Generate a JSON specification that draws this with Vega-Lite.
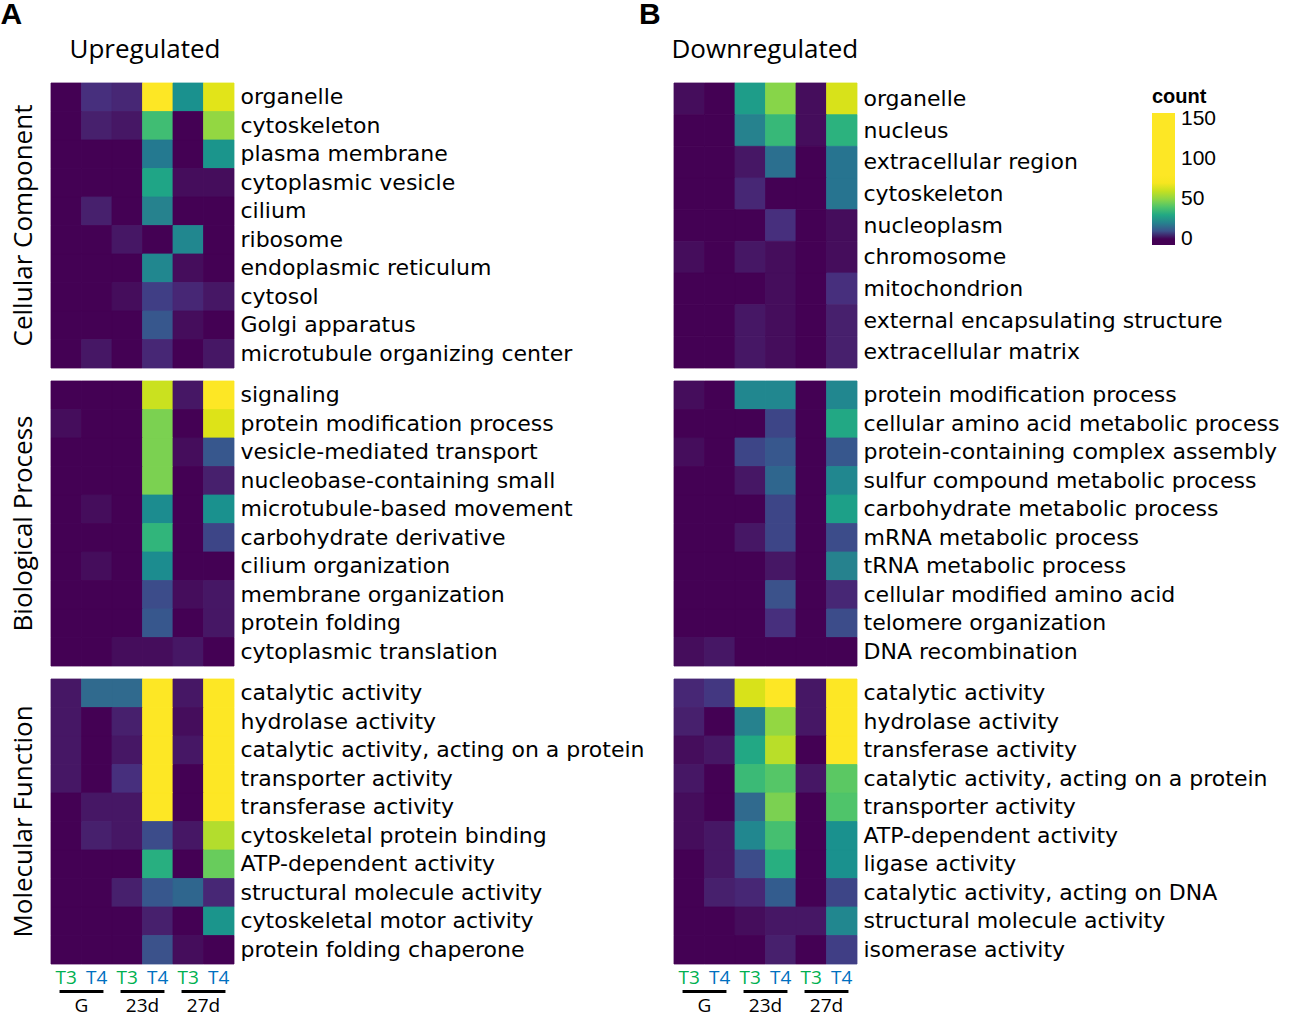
{
"$schema": "https://vega.github.io/schema/vega-lite/v6.json",
"background": "white",
"padding": {"left": 0, "top": 0, "right": 0, "bottom": 0},
"config": {"view": {"stroke": null}, "font": "Liberation Sans", "title": {"color": "black"}, "rect": {"strokeWidth": 0.8, "stroke": {"expr": "scale('color', datum.count)"}}},
"datasets": {
"aCC": [
{"term":"organelle","col":"G_T3","count":0},{"term":"organelle","col":"G_T4","count":5},{"term":"organelle","col":"23d_T3","count":4},{"term":"organelle","col":"23d_T4","count":150},{"term":"organelle","col":"27d_T3","count":23},{"term":"organelle","col":"27d_T4","count":66},
{"term":"cytoskeleton","col":"G_T3","count":0},{"term":"cytoskeleton","col":"G_T4","count":3},{"term":"cytoskeleton","col":"23d_T3","count":2},{"term":"cytoskeleton","col":"23d_T4","count":37},{"term":"cytoskeleton","col":"27d_T3","count":0},{"term":"cytoskeleton","col":"27d_T4","count":51},
{"term":"plasma membrane","col":"G_T3","count":0},{"term":"plasma membrane","col":"G_T4","count":0},{"term":"plasma membrane","col":"23d_T3","count":0},{"term":"plasma membrane","col":"23d_T4","count":18},{"term":"plasma membrane","col":"27d_T3","count":0},{"term":"plasma membrane","col":"27d_T4","count":24},
{"term":"cytoplasmic vesicle","col":"G_T3","count":0},{"term":"cytoplasmic vesicle","col":"G_T4","count":0},{"term":"cytoplasmic vesicle","col":"23d_T3","count":0},{"term":"cytoplasmic vesicle","col":"23d_T4","count":29},{"term":"cytoplasmic vesicle","col":"27d_T3","count":1},{"term":"cytoplasmic vesicle","col":"27d_T4","count":1},
{"term":"cilium","col":"G_T3","count":0},{"term":"cilium","col":"G_T4","count":3},{"term":"cilium","col":"23d_T3","count":0},{"term":"cilium","col":"23d_T4","count":20},{"term":"cilium","col":"27d_T3","count":0},{"term":"cilium","col":"27d_T4","count":0},
{"term":"ribosome","col":"G_T3","count":0},{"term":"ribosome","col":"G_T4","count":0},{"term":"ribosome","col":"23d_T3","count":2},{"term":"ribosome","col":"23d_T4","count":0},{"term":"ribosome","col":"27d_T3","count":21},{"term":"ribosome","col":"27d_T4","count":0},
{"term":"endoplasmic reticulum","col":"G_T3","count":0},{"term":"endoplasmic reticulum","col":"G_T4","count":0},{"term":"endoplasmic reticulum","col":"23d_T3","count":0},{"term":"endoplasmic reticulum","col":"23d_T4","count":21},{"term":"endoplasmic reticulum","col":"27d_T3","count":1},{"term":"endoplasmic reticulum","col":"27d_T4","count":0},
{"term":"cytosol","col":"G_T3","count":0},{"term":"cytosol","col":"G_T4","count":0},{"term":"cytosol","col":"23d_T3","count":1},{"term":"cytosol","col":"23d_T4","count":7},{"term":"cytosol","col":"27d_T3","count":4},{"term":"cytosol","col":"27d_T4","count":2},
{"term":"Golgi apparatus","col":"G_T3","count":0},{"term":"Golgi apparatus","col":"G_T4","count":0},{"term":"Golgi apparatus","col":"23d_T3","count":0},{"term":"Golgi apparatus","col":"23d_T4","count":11},{"term":"Golgi apparatus","col":"27d_T3","count":1},{"term":"Golgi apparatus","col":"27d_T4","count":0},
{"term":"microtubule organizing center","col":"G_T3","count":0},{"term":"microtubule organizing center","col":"G_T4","count":2},{"term":"microtubule organizing center","col":"23d_T3","count":0},{"term":"microtubule organizing center","col":"23d_T4","count":4},{"term":"microtubule organizing center","col":"27d_T3","count":0},{"term":"microtubule organizing center","col":"27d_T4","count":2}
],
"aBP": [
{"term":"signaling","col":"G_T3","count":0},{"term":"signaling","col":"G_T4","count":0},{"term":"signaling","col":"23d_T3","count":0},{"term":"signaling","col":"23d_T4","count":61},{"term":"signaling","col":"27d_T3","count":2},{"term":"signaling","col":"27d_T4","count":120},
{"term":"protein modification process","col":"G_T3","count":1},{"term":"protein modification process","col":"G_T4","count":0},{"term":"protein modification process","col":"23d_T3","count":0},{"term":"protein modification process","col":"23d_T4","count":47},{"term":"protein modification process","col":"27d_T3","count":0},{"term":"protein modification process","col":"27d_T4","count":65},
{"term":"vesicle-mediated transport","col":"G_T3","count":0},{"term":"vesicle-mediated transport","col":"G_T4","count":0},{"term":"vesicle-mediated transport","col":"23d_T3","count":0},{"term":"vesicle-mediated transport","col":"23d_T4","count":47},{"term":"vesicle-mediated transport","col":"27d_T3","count":1},{"term":"vesicle-mediated transport","col":"27d_T4","count":11},
{"term":"nucleobase-containing small","col":"G_T3","count":0},{"term":"nucleobase-containing small","col":"G_T4","count":0},{"term":"nucleobase-containing small","col":"23d_T3","count":0},{"term":"nucleobase-containing small","col":"23d_T4","count":47},{"term":"nucleobase-containing small","col":"27d_T3","count":0},{"term":"nucleobase-containing small","col":"27d_T4","count":3},
{"term":"microtubule-based movement","col":"G_T3","count":0},{"term":"microtubule-based movement","col":"G_T4","count":1},{"term":"microtubule-based movement","col":"23d_T3","count":0},{"term":"microtubule-based movement","col":"23d_T4","count":22},{"term":"microtubule-based movement","col":"27d_T3","count":0},{"term":"microtubule-based movement","col":"27d_T4","count":23},
{"term":"carbohydrate derivative","col":"G_T3","count":0},{"term":"carbohydrate derivative","col":"G_T4","count":0},{"term":"carbohydrate derivative","col":"23d_T3","count":0},{"term":"carbohydrate derivative","col":"23d_T4","count":34},{"term":"carbohydrate derivative","col":"27d_T3","count":0},{"term":"carbohydrate derivative","col":"27d_T4","count":8},
{"term":"cilium organization","col":"G_T3","count":0},{"term":"cilium organization","col":"G_T4","count":1},{"term":"cilium organization","col":"23d_T3","count":0},{"term":"cilium organization","col":"23d_T4","count":22},{"term":"cilium organization","col":"27d_T3","count":0},{"term":"cilium organization","col":"27d_T4","count":0},
{"term":"membrane organization","col":"G_T3","count":0},{"term":"membrane organization","col":"G_T4","count":0},{"term":"membrane organization","col":"23d_T3","count":0},{"term":"membrane organization","col":"23d_T4","count":9},{"term":"membrane organization","col":"27d_T3","count":1},{"term":"membrane organization","col":"27d_T4","count":2},
{"term":"protein folding","col":"G_T3","count":0},{"term":"protein folding","col":"G_T4","count":0},{"term":"protein folding","col":"23d_T3","count":0},{"term":"protein folding","col":"23d_T4","count":11},{"term":"protein folding","col":"27d_T3","count":0},{"term":"protein folding","col":"27d_T4","count":2},
{"term":"cytoplasmic translation","col":"G_T3","count":0},{"term":"cytoplasmic translation","col":"G_T4","count":0},{"term":"cytoplasmic translation","col":"23d_T3","count":1},{"term":"cytoplasmic translation","col":"23d_T4","count":1},{"term":"cytoplasmic translation","col":"27d_T3","count":2},{"term":"cytoplasmic translation","col":"27d_T4","count":0}
],
"aMF": [
{"term":"catalytic activity","col":"G_T3","count":2},{"term":"catalytic activity","col":"G_T4","count":15},{"term":"catalytic activity","col":"23d_T3","count":15},{"term":"catalytic activity","col":"23d_T4","count":150},{"term":"catalytic activity","col":"27d_T3","count":2},{"term":"catalytic activity","col":"27d_T4","count":150},
{"term":"hydrolase activity","col":"G_T3","count":2},{"term":"hydrolase activity","col":"G_T4","count":0},{"term":"hydrolase activity","col":"23d_T3","count":3},{"term":"hydrolase activity","col":"23d_T4","count":150},{"term":"hydrolase activity","col":"27d_T3","count":1},{"term":"hydrolase activity","col":"27d_T4","count":150},
{"term":"catalytic activity, acting on a protein","col":"G_T3","count":2},{"term":"catalytic activity, acting on a protein","col":"G_T4","count":0},{"term":"catalytic activity, acting on a protein","col":"23d_T3","count":2},{"term":"catalytic activity, acting on a protein","col":"23d_T4","count":120},{"term":"catalytic activity, acting on a protein","col":"27d_T3","count":2},{"term":"catalytic activity, acting on a protein","col":"27d_T4","count":150},
{"term":"transporter activity","col":"G_T3","count":2},{"term":"transporter activity","col":"G_T4","count":0},{"term":"transporter activity","col":"23d_T3","count":5},{"term":"transporter activity","col":"23d_T4","count":95},{"term":"transporter activity","col":"27d_T3","count":0},{"term":"transporter activity","col":"27d_T4","count":150},
{"term":"transferase activity","col":"G_T3","count":0},{"term":"transferase activity","col":"G_T4","count":2},{"term":"transferase activity","col":"23d_T3","count":2},{"term":"transferase activity","col":"23d_T4","count":150},{"term":"transferase activity","col":"27d_T3","count":0},{"term":"transferase activity","col":"27d_T4","count":150},
{"term":"cytoskeletal protein binding","col":"G_T3","count":0},{"term":"cytoskeletal protein binding","col":"G_T4","count":3},{"term":"cytoskeletal protein binding","col":"23d_T3","count":2},{"term":"cytoskeletal protein binding","col":"23d_T4","count":9},{"term":"cytoskeletal protein binding","col":"27d_T3","count":2},{"term":"cytoskeletal protein binding","col":"27d_T4","count":57},
{"term":"ATP-dependent activity","col":"G_T3","count":0},{"term":"ATP-dependent activity","col":"G_T4","count":0},{"term":"ATP-dependent activity","col":"23d_T3","count":0},{"term":"ATP-dependent activity","col":"23d_T4","count":32},{"term":"ATP-dependent activity","col":"27d_T3","count":0},{"term":"ATP-dependent activity","col":"27d_T4","count":44},
{"term":"structural molecule activity","col":"G_T3","count":0},{"term":"structural molecule activity","col":"G_T4","count":0},{"term":"structural molecule activity","col":"23d_T3","count":3},{"term":"structural molecule activity","col":"23d_T4","count":11},{"term":"structural molecule activity","col":"27d_T3","count":14},{"term":"structural molecule activity","col":"27d_T4","count":4},
{"term":"cytoskeletal motor activity","col":"G_T3","count":0},{"term":"cytoskeletal motor activity","col":"G_T4","count":0},{"term":"cytoskeletal motor activity","col":"23d_T3","count":0},{"term":"cytoskeletal motor activity","col":"23d_T4","count":3},{"term":"cytoskeletal motor activity","col":"27d_T3","count":0},{"term":"cytoskeletal motor activity","col":"27d_T4","count":24},
{"term":"protein folding chaperone","col":"G_T3","count":0},{"term":"protein folding chaperone","col":"G_T4","count":0},{"term":"protein folding chaperone","col":"23d_T3","count":0},{"term":"protein folding chaperone","col":"23d_T4","count":10},{"term":"protein folding chaperone","col":"27d_T3","count":1},{"term":"protein folding chaperone","col":"27d_T4","count":0}
],
"bCC": [
{"term":"organelle","col":"G_T3","count":1},{"term":"organelle","col":"G_T4","count":0},{"term":"organelle","col":"23d_T3","count":26},{"term":"organelle","col":"23d_T4","count":49},{"term":"organelle","col":"27d_T3","count":1},{"term":"organelle","col":"27d_T4","count":64},
{"term":"nucleus","col":"G_T3","count":0},{"term":"nucleus","col":"G_T4","count":0},{"term":"nucleus","col":"23d_T3","count":20},{"term":"nucleus","col":"23d_T4","count":35},{"term":"nucleus","col":"27d_T3","count":1},{"term":"nucleus","col":"27d_T4","count":33},
{"term":"extracellular region","col":"G_T3","count":0},{"term":"extracellular region","col":"G_T4","count":0},{"term":"extracellular region","col":"23d_T3","count":2},{"term":"extracellular region","col":"23d_T4","count":16},{"term":"extracellular region","col":"27d_T3","count":0},{"term":"extracellular region","col":"27d_T4","count":17},
{"term":"cytoskeleton","col":"G_T3","count":0},{"term":"cytoskeleton","col":"G_T4","count":0},{"term":"cytoskeleton","col":"23d_T3","count":4},{"term":"cytoskeleton","col":"23d_T4","count":0},{"term":"cytoskeleton","col":"27d_T3","count":0},{"term":"cytoskeleton","col":"27d_T4","count":17},
{"term":"nucleoplasm","col":"G_T3","count":0},{"term":"nucleoplasm","col":"G_T4","count":0},{"term":"nucleoplasm","col":"23d_T3","count":0},{"term":"nucleoplasm","col":"23d_T4","count":5},{"term":"nucleoplasm","col":"27d_T3","count":0},{"term":"nucleoplasm","col":"27d_T4","count":1},
{"term":"chromosome","col":"G_T3","count":1},{"term":"chromosome","col":"G_T4","count":0},{"term":"chromosome","col":"23d_T3","count":2},{"term":"chromosome","col":"23d_T4","count":1},{"term":"chromosome","col":"27d_T3","count":0},{"term":"chromosome","col":"27d_T4","count":1},
{"term":"mitochondrion","col":"G_T3","count":0},{"term":"mitochondrion","col":"G_T4","count":0},{"term":"mitochondrion","col":"23d_T3","count":0},{"term":"mitochondrion","col":"23d_T4","count":1},{"term":"mitochondrion","col":"27d_T3","count":0},{"term":"mitochondrion","col":"27d_T4","count":5},
{"term":"external encapsulating structure","col":"G_T3","count":0},{"term":"external encapsulating structure","col":"G_T4","count":0},{"term":"external encapsulating structure","col":"23d_T3","count":2},{"term":"external encapsulating structure","col":"23d_T4","count":1},{"term":"external encapsulating structure","col":"27d_T3","count":0},{"term":"external encapsulating structure","col":"27d_T4","count":3},
{"term":"extracellular matrix","col":"G_T3","count":0},{"term":"extracellular matrix","col":"G_T4","count":0},{"term":"extracellular matrix","col":"23d_T3","count":2},{"term":"extracellular matrix","col":"23d_T4","count":1},{"term":"extracellular matrix","col":"27d_T3","count":0},{"term":"extracellular matrix","col":"27d_T4","count":3}
],
"bBP": [
{"term":"protein modification process","col":"G_T3","count":1},{"term":"protein modification process","col":"G_T4","count":0},{"term":"protein modification process","col":"23d_T3","count":21},{"term":"protein modification process","col":"23d_T4","count":21},{"term":"protein modification process","col":"27d_T3","count":0},{"term":"protein modification process","col":"27d_T4","count":21},
{"term":"cellular amino acid metabolic process","col":"G_T3","count":0},{"term":"cellular amino acid metabolic process","col":"G_T4","count":0},{"term":"cellular amino acid metabolic process","col":"23d_T3","count":0},{"term":"cellular amino acid metabolic process","col":"23d_T4","count":8},{"term":"cellular amino acid metabolic process","col":"27d_T3","count":0},{"term":"cellular amino acid metabolic process","col":"27d_T4","count":30},
{"term":"protein-containing complex assembly","col":"G_T3","count":1},{"term":"protein-containing complex assembly","col":"G_T4","count":0},{"term":"protein-containing complex assembly","col":"23d_T3","count":8},{"term":"protein-containing complex assembly","col":"23d_T4","count":11},{"term":"protein-containing complex assembly","col":"27d_T3","count":0},{"term":"protein-containing complex assembly","col":"27d_T4","count":11},
{"term":"sulfur compound metabolic process","col":"G_T3","count":0},{"term":"sulfur compound metabolic process","col":"G_T4","count":0},{"term":"sulfur compound metabolic process","col":"23d_T3","count":2},{"term":"sulfur compound metabolic process","col":"23d_T4","count":14},{"term":"sulfur compound metabolic process","col":"27d_T3","count":0},{"term":"sulfur compound metabolic process","col":"27d_T4","count":21},
{"term":"carbohydrate metabolic process","col":"G_T3","count":0},{"term":"carbohydrate metabolic process","col":"G_T4","count":0},{"term":"carbohydrate metabolic process","col":"23d_T3","count":0},{"term":"carbohydrate metabolic process","col":"23d_T4","count":8},{"term":"carbohydrate metabolic process","col":"27d_T3","count":0},{"term":"carbohydrate metabolic process","col":"27d_T4","count":27},
{"term":"mRNA metabolic process","col":"G_T3","count":0},{"term":"mRNA metabolic process","col":"G_T4","count":0},{"term":"mRNA metabolic process","col":"23d_T3","count":2},{"term":"mRNA metabolic process","col":"23d_T4","count":8},{"term":"mRNA metabolic process","col":"27d_T3","count":0},{"term":"mRNA metabolic process","col":"27d_T4","count":9},
{"term":"tRNA metabolic process","col":"G_T3","count":0},{"term":"tRNA metabolic process","col":"G_T4","count":0},{"term":"tRNA metabolic process","col":"23d_T3","count":0},{"term":"tRNA metabolic process","col":"23d_T4","count":2},{"term":"tRNA metabolic process","col":"27d_T3","count":0},{"term":"tRNA metabolic process","col":"27d_T4","count":20},
{"term":"cellular modified amino acid","col":"G_T3","count":0},{"term":"cellular modified amino acid","col":"G_T4","count":0},{"term":"cellular modified amino acid","col":"23d_T3","count":0},{"term":"cellular modified amino acid","col":"23d_T4","count":10},{"term":"cellular modified amino acid","col":"27d_T3","count":0},{"term":"cellular modified amino acid","col":"27d_T4","count":4},
{"term":"telomere organization","col":"G_T3","count":0},{"term":"telomere organization","col":"G_T4","count":0},{"term":"telomere organization","col":"23d_T3","count":0},{"term":"telomere organization","col":"23d_T4","count":5},{"term":"telomere organization","col":"27d_T3","count":0},{"term":"telomere organization","col":"27d_T4","count":9},
{"term":"DNA recombination","col":"G_T3","count":1},{"term":"DNA recombination","col":"G_T4","count":2},{"term":"DNA recombination","col":"23d_T3","count":0},{"term":"DNA recombination","col":"23d_T4","count":0},{"term":"DNA recombination","col":"27d_T3","count":0},{"term":"DNA recombination","col":"27d_T4","count":0}
],
"bMF": [
{"term":"catalytic activity","col":"G_T3","count":4},{"term":"catalytic activity","col":"G_T4","count":6},{"term":"catalytic activity","col":"23d_T3","count":64},{"term":"catalytic activity","col":"23d_T4","count":150},{"term":"catalytic activity","col":"27d_T3","count":2},{"term":"catalytic activity","col":"27d_T4","count":150},
{"term":"hydrolase activity","col":"G_T3","count":3},{"term":"hydrolase activity","col":"G_T4","count":0},{"term":"hydrolase activity","col":"23d_T3","count":20},{"term":"hydrolase activity","col":"23d_T4","count":51},{"term":"hydrolase activity","col":"27d_T3","count":2},{"term":"hydrolase activity","col":"27d_T4","count":150},
{"term":"transferase activity","col":"G_T3","count":1},{"term":"transferase activity","col":"G_T4","count":2},{"term":"transferase activity","col":"23d_T3","count":30},{"term":"transferase activity","col":"23d_T4","count":58},{"term":"transferase activity","col":"27d_T3","count":0},{"term":"transferase activity","col":"27d_T4","count":150},
{"term":"catalytic activity, acting on a protein","col":"G_T3","count":2},{"term":"catalytic activity, acting on a protein","col":"G_T4","count":0},{"term":"catalytic activity, acting on a protein","col":"23d_T3","count":36},{"term":"catalytic activity, acting on a protein","col":"23d_T4","count":41},{"term":"catalytic activity, acting on a protein","col":"27d_T3","count":2},{"term":"catalytic activity, acting on a protein","col":"27d_T4","count":42},
{"term":"transporter activity","col":"G_T3","count":1},{"term":"transporter activity","col":"G_T4","count":0},{"term":"transporter activity","col":"23d_T3","count":15},{"term":"transporter activity","col":"23d_T4","count":47},{"term":"transporter activity","col":"27d_T3","count":0},{"term":"transporter activity","col":"27d_T4","count":40},
{"term":"ATP-dependent activity","col":"G_T3","count":1},{"term":"ATP-dependent activity","col":"G_T4","count":2},{"term":"ATP-dependent activity","col":"23d_T3","count":21},{"term":"ATP-dependent activity","col":"23d_T4","count":38},{"term":"ATP-dependent activity","col":"27d_T3","count":0},{"term":"ATP-dependent activity","col":"27d_T4","count":23},
{"term":"ligase activity","col":"G_T3","count":0},{"term":"ligase activity","col":"G_T4","count":2},{"term":"ligase activity","col":"23d_T3","count":9},{"term":"ligase activity","col":"23d_T4","count":32},{"term":"ligase activity","col":"27d_T3","count":0},{"term":"ligase activity","col":"27d_T4","count":23},
{"term":"catalytic activity, acting on DNA","col":"G_T3","count":0},{"term":"catalytic activity, acting on DNA","col":"G_T4","count":3},{"term":"catalytic activity, acting on DNA","col":"23d_T3","count":4},{"term":"catalytic activity, acting on DNA","col":"23d_T4","count":12},{"term":"catalytic activity, acting on DNA","col":"27d_T3","count":0},{"term":"catalytic activity, acting on DNA","col":"27d_T4","count":8},
{"term":"structural molecule activity","col":"G_T3","count":0},{"term":"structural molecule activity","col":"G_T4","count":0},{"term":"structural molecule activity","col":"23d_T3","count":1},{"term":"structural molecule activity","col":"23d_T4","count":2},{"term":"structural molecule activity","col":"27d_T3","count":2},{"term":"structural molecule activity","col":"27d_T4","count":21},
{"term":"isomerase activity","col":"G_T3","count":0},{"term":"isomerase activity","col":"G_T4","count":0},{"term":"isomerase activity","col":"23d_T3","count":0},{"term":"isomerase activity","col":"23d_T4","count":3},{"term":"isomerase activity","col":"27d_T3","count":0},{"term":"isomerase activity","col":"27d_T4","count":7}
],
"groups": [{"group":"G"},{"group":"23d"},{"group":"27d"}]
},
"hconcat": [
{
"title": {"text": "A", "anchor": "start", "frame": "bounds", "font": "Liberation Sans", "fontSize": 30, "fontWeight": "bold", "offset": 6, "dx": -10},
"spacing": 11,
"vconcat": [
{"data": {"name": "aCC"}, "width": 183, "height": 285,
 "title": {"text": "Cellular Component", "orient": "left", "font": "Open Sans", "fontSize": 26, "fontWeight": "normal", "offset": 14},
 "mark": {"type": "rect"},
 "encoding": {
  "x": {"field": "col", "type": "nominal", "sort": ["G_T3","G_T4","23d_T3","23d_T4","27d_T3","27d_T4"], "scale": {"paddingInner": 0, "paddingOuter": 0}, "axis": {"orient": "top", "labels": false, "ticks": false, "domain": false, "title": "Upregulated", "titleFont": "Open Sans", "titleFontSize": 26, "titleFontWeight": "normal", "titleColor": "black", "titleAnchor": "start", "titleAlign": "left", "titleX": 18, "titlePadding": 21}},
  "y": {"field": "term", "type": "nominal", "sort": null, "scale": {"paddingInner": 0, "paddingOuter": 0}, "axis": {"orient": "right", "ticks": false, "domain": false, "title": null, "labelFont": "DejaVu Sans", "labelFontSize": 22, "labelColor": "black", "labelPadding": 6, "labelLimit": 700}},
  "color": {"field": "count", "type": "quantitative", "scale": {"domain": [-7.5,0,5,10,15,20,25,30,35,40,45,50,55,60,65,70,75,80,85,90,95,100,105,110,115,120,125,130,135,140,145,150,157.5], "range": ["#440154","#440154","#472f7d","#3b528b","#306a8e","#26828e","#1f9a8a","#22a884","#37b878","#4fc46a","#6ece58","#8ed645","#a8db34","#c5e021","#dde318","#f6e620","#fde725","#fde725","#fde725","#fde725","#fde725","#fde725","#fde725","#fde725","#fde725","#fde725","#fde725","#fde725","#fde725","#fde725","#fde725","#fde725","#fde725"]}, "legend": {"orient": "none", "legendX": 1101, "legendY": 4, "values": [0,50,100,150], "gradientLength": 132, "gradientThickness": 23, "title": "count", "titleFont": "Liberation Sans", "titleFontSize": 20, "titleFontWeight": "bold", "titleColor": "black", "titlePadding": 6, "labelFont": "Liberation Sans", "labelFontSize": 21, "labelColor": "black", "labelOffset": 6}}
 }},
{"data": {"name": "aBP"}, "width": 183, "height": 285,
 "title": {"text": "Biological Process", "orient": "left", "font": "Open Sans", "fontSize": 26, "fontWeight": "normal", "offset": 14},
 "mark": {"type": "rect"},
 "encoding": {
  "x": {"field": "col", "type": "nominal", "sort": ["G_T3","G_T4","23d_T3","23d_T4","27d_T3","27d_T4"], "scale": {"paddingInner": 0, "paddingOuter": 0}, "axis": null},
  "y": {"field": "term", "type": "nominal", "sort": null, "scale": {"paddingInner": 0, "paddingOuter": 0}, "axis": {"orient": "right", "ticks": false, "domain": false, "title": null, "labelFont": "DejaVu Sans", "labelFontSize": 22, "labelColor": "black", "labelPadding": 6, "labelLimit": 700}},
  "color": {"field": "count", "type": "quantitative", "scale": {"domain": [-7.5,0,5,10,15,20,25,30,35,40,45,50,55,60,65,70,75,80,85,90,95,100,105,110,115,120,125,130,135,140,145,150,157.5], "range": ["#440154","#440154","#472f7d","#3b528b","#306a8e","#26828e","#1f9a8a","#22a884","#37b878","#4fc46a","#6ece58","#8ed645","#a8db34","#c5e021","#dde318","#f6e620","#fde725","#fde725","#fde725","#fde725","#fde725","#fde725","#fde725","#fde725","#fde725","#fde725","#fde725","#fde725","#fde725","#fde725","#fde725","#fde725","#fde725"]}, "legend": {"orient": "none", "legendX": 1101, "legendY": 4, "values": [0,50,100,150], "gradientLength": 132, "gradientThickness": 23, "title": "count", "titleFont": "Liberation Sans", "titleFontSize": 20, "titleFontWeight": "bold", "titleColor": "black", "titlePadding": 6, "labelFont": "Liberation Sans", "labelFontSize": 21, "labelColor": "black", "labelOffset": 6}}
 }},
{"spacing": 3, "vconcat": [
{"data": {"name": "aMF"}, "width": 183, "height": 285,
 "title": {"text": "Molecular Function", "orient": "left", "font": "Open Sans", "fontSize": 26, "fontWeight": "normal", "offset": 14},
 "mark": {"type": "rect"},
 "encoding": {
  "x": {"field": "col", "type": "nominal", "sort": ["G_T3","G_T4","23d_T3","23d_T4","27d_T3","27d_T4"], "scale": {"paddingInner": 0, "paddingOuter": 0}, "axis": {"orient": "bottom", "ticks": false, "domain": false, "title": null, "labelAngle": 0, "labelExpr": "split(datum.value, '_')[1]", "labelFont": "Open Sans", "labelFontSize": 19, "labelPadding": 4, "labelColor": {"condition": {"test": "indexof(datum.value, 'T3') >= 0", "value": "#00b050"}, "value": "#0070c0"}}},
  "y": {"field": "term", "type": "nominal", "sort": null, "scale": {"paddingInner": 0, "paddingOuter": 0}, "axis": {"orient": "right", "ticks": false, "domain": false, "title": null, "labelFont": "DejaVu Sans", "labelFontSize": 22, "labelColor": "black", "labelPadding": 6, "labelLimit": 700}},
  "color": {"field": "count", "type": "quantitative", "scale": {"domain": [-7.5,0,5,10,15,20,25,30,35,40,45,50,55,60,65,70,75,80,85,90,95,100,105,110,115,120,125,130,135,140,145,150,157.5], "range": ["#440154","#440154","#472f7d","#3b528b","#306a8e","#26828e","#1f9a8a","#22a884","#37b878","#4fc46a","#6ece58","#8ed645","#a8db34","#c5e021","#dde318","#f6e620","#fde725","#fde725","#fde725","#fde725","#fde725","#fde725","#fde725","#fde725","#fde725","#fde725","#fde725","#fde725","#fde725","#fde725","#fde725","#fde725","#fde725"]}, "legend": {"orient": "none", "legendX": 1101, "legendY": 4, "values": [0,50,100,150], "gradientLength": 132, "gradientThickness": 23, "title": "count", "titleFont": "Liberation Sans", "titleFontSize": 20, "titleFontWeight": "bold", "titleColor": "black", "titlePadding": 6, "labelFont": "Liberation Sans", "labelFontSize": 21, "labelColor": "black", "labelOffset": 6}}
 }},
{"data": {"name": "groups"}, "width": 183, "height": 3,
 "mark": {"type": "rect", "color": "black", "stroke": null},
 "encoding": {
  "x": {"field": "group", "type": "nominal", "sort": ["G","23d","27d"], "scale": {"paddingInner": 0.28, "paddingOuter": 0.14}, "axis": {"orient": "bottom", "ticks": false, "domain": false, "title": null, "labelAngle": 0, "labelFont": "Open Sans", "labelFontSize": 19, "labelColor": "black", "labelPadding": 3}}
 }}
]}
]
},
{
"title": {"text": "B", "anchor": "start", "frame": "bounds", "font": "Liberation Sans", "fontSize": 30, "fontWeight": "bold", "offset": 6, "dx": -32},
"spacing": 11,
"vconcat": [
{"data": {"name": "bCC"}, "width": 183, "height": 285,
 "mark": {"type": "rect"},
 "encoding": {
  "x": {"field": "col", "type": "nominal", "sort": ["G_T3","G_T4","23d_T3","23d_T4","27d_T3","27d_T4"], "scale": {"paddingInner": 0, "paddingOuter": 0}, "axis": {"orient": "top", "labels": false, "ticks": false, "domain": false, "title": "Downregulated", "titleFont": "Open Sans", "titleFontSize": 26, "titleFontWeight": "normal", "titleColor": "black", "titleAnchor": "start", "titleAlign": "left", "titleX": -3, "titlePadding": 21}},
  "y": {"field": "term", "type": "nominal", "sort": null, "scale": {"paddingInner": 0, "paddingOuter": 0}, "axis": {"orient": "right", "ticks": false, "domain": false, "title": null, "labelFont": "DejaVu Sans", "labelFontSize": 22, "labelColor": "black", "labelPadding": 6, "labelLimit": 700}},
  "color": {"field": "count", "type": "quantitative", "scale": {"domain": [-7.5,0,5,10,15,20,25,30,35,40,45,50,55,60,65,70,75,80,85,90,95,100,105,110,115,120,125,130,135,140,145,150,157.5], "range": ["#440154","#440154","#472f7d","#3b528b","#306a8e","#26828e","#1f9a8a","#22a884","#37b878","#4fc46a","#6ece58","#8ed645","#a8db34","#c5e021","#dde318","#f6e620","#fde725","#fde725","#fde725","#fde725","#fde725","#fde725","#fde725","#fde725","#fde725","#fde725","#fde725","#fde725","#fde725","#fde725","#fde725","#fde725","#fde725"]}, "legend": {"orient": "none", "legendX": 1101, "legendY": 4, "values": [0,50,100,150], "gradientLength": 132, "gradientThickness": 23, "title": "count", "titleFont": "Liberation Sans", "titleFontSize": 20, "titleFontWeight": "bold", "titleColor": "black", "titlePadding": 6, "labelFont": "Liberation Sans", "labelFontSize": 21, "labelColor": "black", "labelOffset": 6}}
 }},
{"data": {"name": "bBP"}, "width": 183, "height": 285,
 "mark": {"type": "rect"},
 "encoding": {
  "x": {"field": "col", "type": "nominal", "sort": ["G_T3","G_T4","23d_T3","23d_T4","27d_T3","27d_T4"], "scale": {"paddingInner": 0, "paddingOuter": 0}, "axis": null},
  "y": {"field": "term", "type": "nominal", "sort": null, "scale": {"paddingInner": 0, "paddingOuter": 0}, "axis": {"orient": "right", "ticks": false, "domain": false, "title": null, "labelFont": "DejaVu Sans", "labelFontSize": 22, "labelColor": "black", "labelPadding": 6, "labelLimit": 700}},
  "color": {"field": "count", "type": "quantitative", "scale": {"domain": [-7.5,0,5,10,15,20,25,30,35,40,45,50,55,60,65,70,75,80,85,90,95,100,105,110,115,120,125,130,135,140,145,150,157.5], "range": ["#440154","#440154","#472f7d","#3b528b","#306a8e","#26828e","#1f9a8a","#22a884","#37b878","#4fc46a","#6ece58","#8ed645","#a8db34","#c5e021","#dde318","#f6e620","#fde725","#fde725","#fde725","#fde725","#fde725","#fde725","#fde725","#fde725","#fde725","#fde725","#fde725","#fde725","#fde725","#fde725","#fde725","#fde725","#fde725"]}, "legend": {"orient": "none", "legendX": 1101, "legendY": 4, "values": [0,50,100,150], "gradientLength": 132, "gradientThickness": 23, "title": "count", "titleFont": "Liberation Sans", "titleFontSize": 20, "titleFontWeight": "bold", "titleColor": "black", "titlePadding": 6, "labelFont": "Liberation Sans", "labelFontSize": 21, "labelColor": "black", "labelOffset": 6}}
 }},
{"spacing": 3, "vconcat": [
{"data": {"name": "bMF"}, "width": 183, "height": 285,
 "mark": {"type": "rect"},
 "encoding": {
  "x": {"field": "col", "type": "nominal", "sort": ["G_T3","G_T4","23d_T3","23d_T4","27d_T3","27d_T4"], "scale": {"paddingInner": 0, "paddingOuter": 0}, "axis": {"orient": "bottom", "ticks": false, "domain": false, "title": null, "labelAngle": 0, "labelExpr": "split(datum.value, '_')[1]", "labelFont": "Open Sans", "labelFontSize": 19, "labelPadding": 4, "labelColor": {"condition": {"test": "indexof(datum.value, 'T3') >= 0", "value": "#00b050"}, "value": "#0070c0"}}},
  "y": {"field": "term", "type": "nominal", "sort": null, "scale": {"paddingInner": 0, "paddingOuter": 0}, "axis": {"orient": "right", "ticks": false, "domain": false, "title": null, "labelFont": "DejaVu Sans", "labelFontSize": 22, "labelColor": "black", "labelPadding": 6, "labelLimit": 700}},
  "color": {"field": "count", "type": "quantitative", "scale": {"domain": [-7.5,0,5,10,15,20,25,30,35,40,45,50,55,60,65,70,75,80,85,90,95,100,105,110,115,120,125,130,135,140,145,150,157.5], "range": ["#440154","#440154","#472f7d","#3b528b","#306a8e","#26828e","#1f9a8a","#22a884","#37b878","#4fc46a","#6ece58","#8ed645","#a8db34","#c5e021","#dde318","#f6e620","#fde725","#fde725","#fde725","#fde725","#fde725","#fde725","#fde725","#fde725","#fde725","#fde725","#fde725","#fde725","#fde725","#fde725","#fde725","#fde725","#fde725"]}, "legend": {"orient": "none", "legendX": 1101, "legendY": 4, "values": [0,50,100,150], "gradientLength": 132, "gradientThickness": 23, "title": "count", "titleFont": "Liberation Sans", "titleFontSize": 20, "titleFontWeight": "bold", "titleColor": "black", "titlePadding": 6, "labelFont": "Liberation Sans", "labelFontSize": 21, "labelColor": "black", "labelOffset": 6}}
 }},
{"data": {"name": "groups"}, "width": 183, "height": 3,
 "mark": {"type": "rect", "color": "black", "stroke": null},
 "encoding": {
  "x": {"field": "group", "type": "nominal", "sort": ["G","23d","27d"], "scale": {"paddingInner": 0.28, "paddingOuter": 0.14}, "axis": {"orient": "bottom", "ticks": false, "domain": false, "title": null, "labelAngle": 0, "labelFont": "Open Sans", "labelFontSize": 19, "labelColor": "black", "labelPadding": 3}}
 }}
]}
]
}
],
"spacing": -6,
"resolve": {"scale": {"x": "independent", "y": "independent"}}
}
